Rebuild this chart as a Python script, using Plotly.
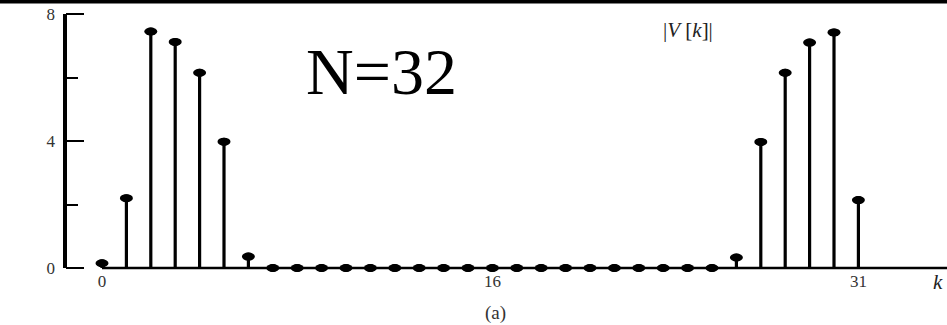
import plotly.graph_objects as go

# |V[k]| for a 32-point DFT
k_index = list(range(32))
magnitude = [0.15, 2.2, 7.45, 7.12, 6.15, 3.98, 0.36] + [0.0] * 19 + [0.33, 3.97, 6.15, 7.1, 7.42, 2.14]

x_tick_vals = [0, 16, 31]
x_tick_text = ["0", "16", "31"]
y_tick_vals = [0, 4, 8]
y_tick_text = ["0", "4", "8"]

W, H = 947, 325
SERIF = "Liberation Serif"

# stems: one vertical segment per sample
stem_x, stem_y = [], []
for kk, v in zip(k_index, magnitude):
    stem_x += [kk, kk, None]
    stem_y += [0, v, None]

fig = go.Figure()
fig.add_trace(go.Scatter(
    x=[k_index[0], 40], y=[0, 0], mode="lines",
    line=dict(color="black", width=2.5), hoverinfo="skip", showlegend=False,
))
fig.add_trace(go.Scatter(
    x=stem_x, y=stem_y, mode="lines",
    line=dict(color="black", width=3.2), hoverinfo="skip", showlegend=False,
))
fig.add_trace(go.Scatter(
    x=k_index, y=magnitude, mode="markers",
    marker=dict(color="black", size=8, symbol="circle"),
    cliponaxis=False, showlegend=False,
))

# flattened stem heads, anchored to each sample value
shapes = []
for kk, v in zip(k_index, magnitude):
    shapes.append(dict(
        type="circle", xref="x", yref="y",
        xsizemode="pixel", ysizemode="pixel",
        xanchor=kk, yanchor=v,
        x0=-6.5, x1=6.5, y0=-4, y1=4,
        fillcolor="black", line=dict(color="black", width=0),
    ))

# vertical axis line from 0 to 8
y_axis_pos = 65 / W
shapes.append(dict(
    type="line", xref="paper", yref="y",
    x0=y_axis_pos, x1=y_axis_pos, y0=0, y1=8,
    line=dict(color="black", width=4),
))
# frame line along the top edge
shapes.append(dict(
    type="rect", xref="paper", yref="paper",
    x0=0, x1=1, y0=1 - 3.5 / H, y1=1.01,
    fillcolor="black", line=dict(width=0),
))

px_per_k = 24.4
k0_px = 102
px_per_unit = 31.75
zero_px = 268

fig.update_layout(
    width=W, height=H,
    margin=dict(l=0, r=0, t=0, b=0),
    paper_bgcolor="white", plot_bgcolor="white",
    showlegend=False,
    shapes=shapes,
    font=dict(family=SERIF, color="#333333"),
    xaxis=dict(
        domain=[0, 1],
        range=[-k0_px / px_per_k, (W - k0_px) / px_per_k],
        showgrid=False, zeroline=False, showline=False,
        tickmode="array", tickvals=x_tick_vals, ticktext=x_tick_text,
        ticks="", tickfont=dict(size=17, family=SERIF, color="#333333"),
        anchor="free", position=(H - zero_px) / H,
        ticklabelstandoff=1,
    ),
    yaxis=dict(
        domain=[0, 1],
        range=[-(H - zero_px) / px_per_unit, zero_px / px_per_unit],
        showgrid=False, zeroline=False, showline=False,
        tickmode="array", tickvals=y_tick_vals, ticktext=y_tick_text,
        ticks="inside", ticklen=18, tickwidth=2, tickcolor="black",
        minor=dict(ticks="inside", ticklen=12, tickwidth=1.5, tickcolor="black",
                   tickmode="array", tickvals=[2, 6]),
        tickfont=dict(size=17, family=SERIF, color="#333333"),
        anchor="free", position=y_axis_pos,
        ticklabelstandoff=10,
    ),
    annotations=[
        dict(text="N=32", xref="paper", yref="paper",
             x=381 / W, y=1 - 71 / H, xanchor="center", yanchor="middle",
             showarrow=False, font=dict(family=SERIF, size=66, color="black")),
        dict(text="|<i>V</i> [<i>k</i>]|", xref="paper", yref="paper",
             x=688 / W, y=1 - 30 / H, xanchor="center", yanchor="middle",
             showarrow=False, font=dict(family=SERIF, size=21, color="#222222")),
        dict(text="<i>k</i>", xref="paper", yref="paper",
             x=938 / W, y=1 - 282 / H, xanchor="center", yanchor="middle",
             showarrow=False, font=dict(family=SERIF, size=21, color="#222222")),
        dict(text="(a)", xref="paper", yref="paper",
             x=495 / W, y=1 - 313 / H, xanchor="center", yanchor="middle",
             showarrow=False, font=dict(family=SERIF, size=19, color="#333333")),
    ],
)

fig.write_html("out.html")
